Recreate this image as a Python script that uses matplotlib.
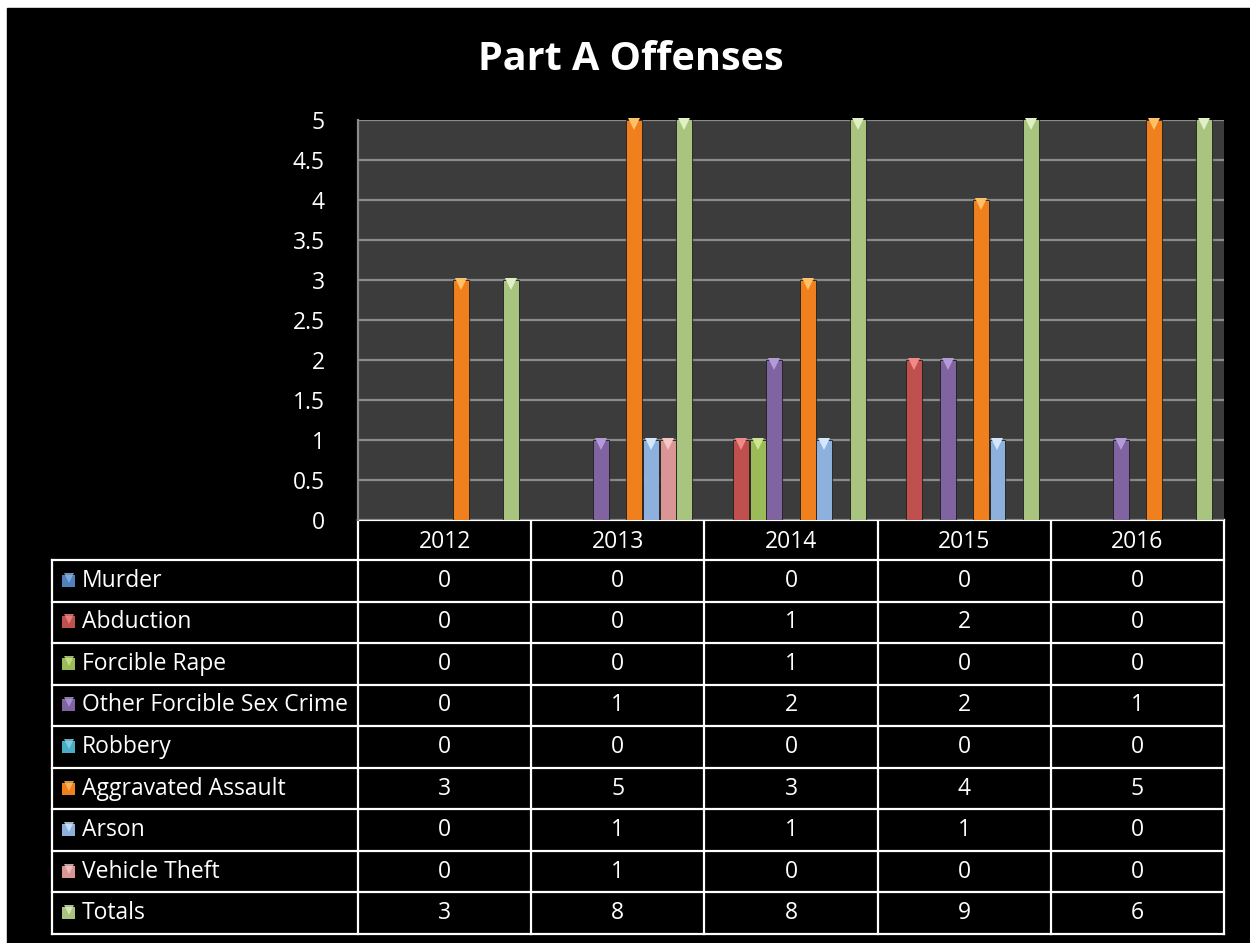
import matplotlib
matplotlib.use('Agg')
import matplotlib.pyplot as plt
from matplotlib.patches import Rectangle
import numpy as np

"""
Part A Offenses: clustered columns with a data table underneath
"""

years = ['2012', '2013', '2014', '2015', '2016']
offenses = ['Murder', 'Abduction', 'Forcible Rape', 'Other Forcible Sex Crime',
            'Robbery', 'Aggravated Assault', 'Arson', 'Vehicle Theft', 'Totals']
murder = [0, 0, 0, 0, 0]
abduction = [0, 0, 1, 2, 0]
forcible_rape = [0, 0, 1, 0, 0]
other_sex_crime = [0, 1, 2, 2, 1]
robbery = [0, 0, 0, 0, 0]
agg_assault = [3, 5, 3, 4, 5]
arson = [0, 1, 1, 1, 0]
vehicle_theft = [0, 1, 0, 0, 0]
totals = [3, 8, 8, 9, 6]
values = [murder, abduction, forcible_rape, other_sex_crime, robbery,
          agg_assault, arson, vehicle_theft, totals]
yticks = [0, 0.5, 1, 1.5, 2, 2.5, 3, 3.5, 4, 4.5, 5]

colors = ['#4F81BD', '#C0504D', '#9BBB59', '#8064A2', '#4BACC6',
          '#F0801E', '#8EB0DC', '#D99694', '#A8C47E']
tops = ['#8FB4E3', '#F08A88', '#CDE690', '#B39AD8', '#8BD7EA',
        '#FFC068', '#D3E8FF', '#F5C8C6', '#E0F0C4']

W, H = 1250, 943
fig = plt.figure(figsize=(12.5, 9.43), dpi=100)
fig.patch.set_facecolor('white')

# black slide area, with the thin white margin on the top and left
fig.patches.append(Rectangle((7 / W, 0), 1 - 7 / W, 1 - 8 / H,
                             transform=fig.transFigure, color='black', zorder=-10))

font = ['Open Sans', 'DejaVu Sans']
plt.rcParams['font.family'] = font
fs = 16.5

# pixel-space axes for the title and the data table
ax_t = fig.add_axes([0, 0, 1, 1])
ax_t.set_xlim(0, W)
ax_t.set_ylim(H, 0)
ax_t.axis('off')
ax_t.patch.set_alpha(0)

ax_t.text(631, 60, 'Part A Offenses', color='white', fontsize=28.5,
          fontweight='bold', ha='center', va='center')

x0, x_lab, x_end = 52, 358, 1224
y_head, y_rows, y_end = 520, 560, 934
col_w = (x_end - x_lab) / len(years)
row_h = (y_end - y_rows) / len(offenses)
lc, lw = 'white', 1.6

# header
ax_t.plot([x_lab, x_end], [y_head, y_head], color=lc, lw=lw)
for j, yr in enumerate(years):
    ax_t.text(x_lab + (j + 0.5) * col_w, (y_head + y_rows) / 2 + 2, yr,
              color='white', fontsize=fs, ha='center', va='center')
# grid of the table
for i in range(len(offenses) + 1):
    y = y_rows + i * row_h
    ax_t.plot([x0, x_end], [y, y], color=lc, lw=lw)
ax_t.plot([x0, x0], [y_rows, y_end], color=lc, lw=lw)
for j in range(len(years) + 1):
    ax_t.plot([x_lab + j * col_w] * 2, [y_head, y_end], color=lc, lw=lw)

for i, name in enumerate(offenses):
    yc = y_rows + (i + 0.5) * row_h
    ax_t.add_patch(Rectangle((62, yc - 6), 13, 12, facecolor=colors[i],
                             edgecolor='none'))
    ax_t.plot(68.5, yc - 3, marker='v', ms=7, color=tops[i], mew=0, alpha=0.8)
    ax_t.text(82, yc, name, color='white', fontsize=fs, ha='left', va='center')
    for j in range(len(years)):
        ax_t.text(x_lab + (j + 0.5) * col_w, yc, str(values[i][j]),
                  color='white', fontsize=fs, ha='center', va='center')

# bar chart
ax = fig.add_axes([x_lab / W, (H - y_head) / H, (x_end - x_lab) / W,
                   (y_head - 120) / H])
ax.set_facecolor('#3C3C3C')
n = len(offenses)
group = 0.865
bw = group / n
xs = np.arange(len(years))
for i in range(n):
    pos = xs + (i - (n - 1) / 2) * bw
    vals = np.array(values[i], dtype=float)
    ax.bar(pos, vals, width=bw * 0.96, color=colors[i],
           edgecolor='#1E1E1E', linewidth=0.6, zorder=3)
    for p, v in zip(pos, vals):
        if v > 0:
            ax.plot(p, min(v, 5) - 0.05, marker='v', ms=8, color=tops[i],
                    mew=0, zorder=4, clip_on=False)

ax.set_xlim(-0.5, len(years) - 0.5)
ax.set_ylim(0, 5)
ax.set_yticks(yticks)
ax.set_yticklabels([f'{t:g}' for t in yticks])
ax.set_xticks([])
ax.tick_params(axis='y', length=0, pad=24, labelcolor='white', labelsize=fs)
ax.grid(axis='y', color='#8A8A8A', lw=1.6, zorder=1)
for side in ['top', 'right']:
    ax.spines[side].set_visible(False)
ax.spines['left'].set_color('#8A8A8A')
ax.spines['left'].set_linewidth(1.6)
ax.spines['bottom'].set_visible(False)

plt.savefig('out.png', dpi=100, facecolor=fig.get_facecolor())
plt.close()
